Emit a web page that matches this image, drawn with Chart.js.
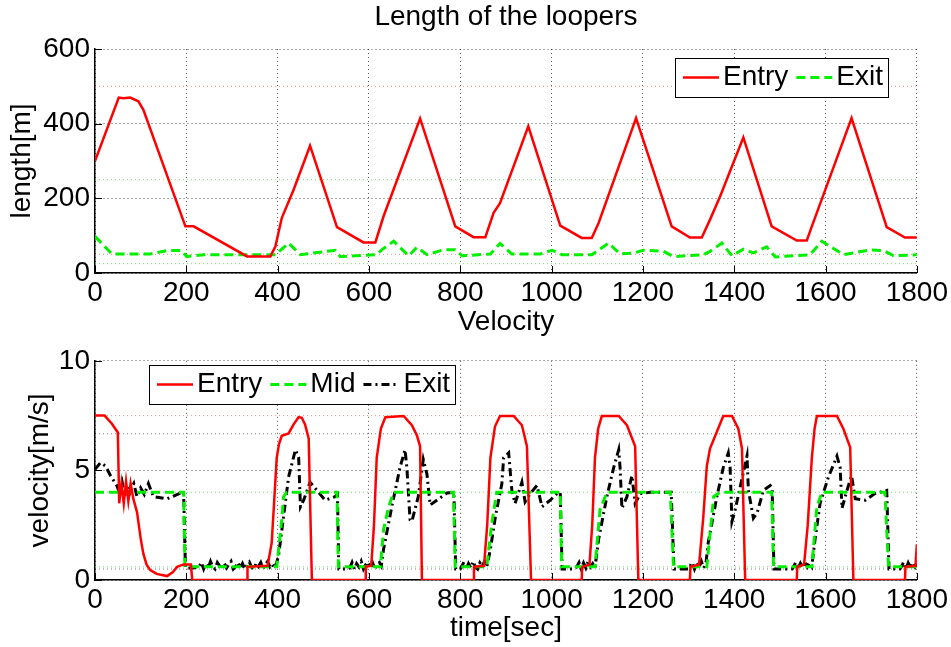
<!DOCTYPE html>
<html>
<head>
<meta charset="utf-8">
<title>Length of the loopers</title>
<script src="https://cdn.jsdelivr.net/npm/chart.js@4.4.0/dist/chart.umd.min.js"></script>
<style>
  html, body { margin: 0; padding: 0; background: #fff; }
  #wrap { position: relative; width: 951px; height: 647px; }
  .panel { position: absolute; left: 0; width: 951px; }
  #top { top: 0; height: 340px; }
  #bottom { top: 339px; height: 308px; }
</style>
</head>
<body>
<div id="wrap">
  <div class="panel" id="top"><canvas id="lengthChart"></canvas></div>
  <div class="panel" id="bottom"><canvas id="velocityChart"></canvas></div>
</div>
<script>
// --- data ---
// time axis ticks (shared by both plots)
const timeTicks = [0, 200, 400, 600, 800, 1000, 1200, 1400, 1600, 1800];
const lengthTicks = [0, 200, 400, 600];
const velocityTicks = [0, 5, 10];

// top plot: looper length [m]
const lenEntryT = [0, 52, 63, 77, 95, 106, 198, 216, 333, 384, 395, 409, 435, 471, 530,
  588, 614, 632, 712, 789, 829, 855, 873, 887, 949, 1019, 1066, 1088, 1103, 1185,
  1263, 1303, 1329, 1347, 1369, 1420, 1482, 1537, 1559, 1570, 1657, 1734, 1774, 1800];
const lenEntry = [300, 470, 468, 470, 460, 437, 125, 125, 44.5, 44.5, 71, 147, 223, 341, 123,
  82, 82, 152, 414, 125, 96, 96, 161, 187, 393, 127, 94, 94, 134, 415,
  125, 95, 95, 143, 205, 363, 125, 87, 87, 125, 415, 123, 95, 95];

const lenExitT = [0, 37, 121, 158, 190, 201, 238, 395, 424, 450, 526, 537, 617, 628, 654,
  687, 705, 727, 763, 789, 804, 866, 887, 913, 975, 1001, 1023, 1088, 1125, 1150,
  1179, 1201, 1245, 1267, 1333, 1347, 1373, 1395, 1420, 1442, 1471, 1490, 1566, 1592, 1639,
  1698, 1727, 1749, 1800];
const lenExit = [98, 51, 51, 60, 60, 44, 49, 49, 80, 49, 61, 44, 49, 62, 85,
  46, 69, 49, 62, 62, 46, 51, 79, 51, 51, 61, 49, 49, 80, 51,
  53, 61, 58, 44, 49, 58, 80, 46, 64, 54, 70, 43, 49, 85, 49,
  62, 60, 46, 49];

// limit lines of the top plot
const lenEntryLimits = [50, 500];
const lenExitLimits = [25, 250];

// bottom plot: velocity [m/s]
const velEntryT = [
  0, 21, 37, 50, 53, 58, 63, 68, 73, 78, 84, 92, 100, 106, 113, 121, 135, 158, 170, 180, 194, 210, 213,
  333, 334, 378, 387, 393, 398, 403, 409, 424, 435, 446, 453, 460, 468, 475,
  592, 593, 605, 611, 617, 626, 636, 676, 694, 705, 712, 716,
  829, 830, 852, 859, 866, 876, 887, 917, 935, 946, 955,
  1066, 1067, 1083, 1089, 1095, 1102, 1110, 1147, 1165, 1183, 1190,
  1303, 1304, 1323, 1332, 1340, 1347, 1362, 1376, 1395, 1409, 1417, 1424,
  1537, 1538, 1553, 1561, 1570, 1576, 1581, 1625, 1639, 1654, 1661,
  1774, 1775, 1797, 1800];
const velEntry = [
  7.5, 7.5, 7.13, 6.73, 3.5, 4.4, 3.5, 4.5, 3.6, 4.4, 3.7, 3.1, 1.9, 1.19, 0.7, 0.45, 0.28, 0.18, 0.35, 0.6, 0.71, 0.71, 0,
  0, 0.6, 0.65, 1.7, 3.8, 5.57, 6.2, 6.58, 6.69, 7.1, 7.43, 7.4, 7.1, 6.46, 0,
  0, 0.6, 0.65, 2.5, 5.57, 6.9, 7.43, 7.48, 7.06, 6.6, 6.1, 0,
  0, 0.6, 0.65, 2.5, 5.57, 7.0, 7.48, 7.48, 7.06, 6.1, 0,
  0, 0.6, 0.7, 2.5, 5.57, 6.9, 7.48, 7.48, 7.06, 6.1, 0,
  0, 0.6, 0.7, 2.8, 5.2, 6.0, 6.76, 7.48, 7.48, 6.9, 6.0, 0,
  0, 0.6, 0.7, 2.5, 5.57, 6.9, 7.48, 7.48, 6.9, 6.05, 0,
  0, 0.6, 0.65, 1.63];

const velMidT = [0, 194, 197, 398, 409, 413, 420, 530, 533, 625, 632, 643, 654, 785, 789, 858, 869, 880,
  1019, 1022, 1095, 1106, 1121, 1260, 1267, 1340, 1355, 1369, 1482, 1486, 1570, 1581, 1592, 1730, 1738, 1800];
const velMid = [4, 4, 0.6, 0.6, 2.75, 3.8, 4, 4, 0.6, 0.6, 2.3, 3.34, 4, 4, 0.6, 0.6, 2.6, 4,
  4, 0.6, 0.6, 3.2, 4, 4, 0.6, 0.6, 3.8, 4, 4, 0.6, 0.6, 3.34, 4, 4, 0.6, 0.6];

const velExitT = [
  0, 12, 23, 34, 48, 55, 60, 65, 70, 75, 80, 85, 92, 100, 108, 117, 128, 158, 187, 194, 198,
  215, 228, 233, 238, 243, 248, 253, 258, 263, 268, 273, 278, 283, 288, 293, 298, 303, 308, 313, 318,
  323, 328, 333, 338, 343, 348, 353, 358, 363, 368, 373, 378, 383, 388, 393, 398,
  402, 413, 424, 439, 446, 450, 457, 471, 486, 504, 526, 531, 534, 555,
  558, 563, 568, 573, 578, 583, 588, 593, 598, 603, 608, 613, 618, 623, 627,
  632, 650, 668, 679, 683, 690, 694, 708, 719, 727, 734, 771, 786, 790, 800,
  803, 808, 813, 818, 823, 828, 833, 838, 843, 848, 853, 858,
  866, 877, 891, 895, 906, 913, 920, 935, 942, 953, 968, 979, 997, 1012, 1019, 1023, 1050,
  1055, 1060, 1065, 1070, 1075, 1080, 1085, 1090, 1095,
  1103, 1121, 1136, 1147, 1150, 1154, 1165, 1176, 1183, 1194, 1216, 1262, 1268, 1300,
  1303, 1308, 1313, 1318, 1323, 1328, 1333, 1338,
  1343, 1362, 1376, 1387, 1391, 1395, 1402, 1413, 1428, 1431, 1442, 1450, 1464, 1479, 1483, 1487, 1527,
  1530, 1535, 1540, 1545, 1550, 1555, 1560, 1565, 1570,
  1577, 1588, 1606, 1625, 1632, 1636, 1647, 1657, 1665, 1687, 1708, 1734, 1739, 1763,
  1766, 1771, 1776, 1781, 1786, 1791, 1796, 1800];
const velExit = [
  5.05, 5.35, 5.2, 4.76, 4.3, 3.9, 4.4, 3.8, 4.3, 3.9, 4.2, 4.4, 3.8, 4.2, 3.9, 4.4, 3.8, 3.7, 3.97, 4.0, 0.55,
  0.55, 0.6, 0.8, 0.5, 0.75, 0.55, 0.85, 0.6, 0.5, 0.8, 0.65, 0.5, 0.78, 0.55, 0.7, 0.85, 0.5, 0.62, 0.8, 0.55,
  0.75, 0.5, 0.7, 0.82, 0.58, 0.5, 0.76, 0.62, 0.8, 0.52, 0.7, 0.84, 0.6, 0.72, 0.55, 0.8,
  1.1, 2.9, 4.7, 5.94, 5.6, 3.34, 3.64, 4.46, 4.09, 3.64, 3.8, 3.9, 0.5, 0.5,
  0.55, 0.8, 0.5, 0.75, 0.6, 0.85, 0.5, 0.7, 0.82, 0.55, 0.78, 0.5, 0.72, 0.8, 0.65,
  1.4, 3.34, 5.13, 5.94, 5.13, 2.75, 2.67, 3.8, 5.5, 4.83, 3.42, 3.97, 4.0, 0.5, 0.5,
  0.6, 0.82, 0.5, 0.75, 0.55, 0.85, 0.6, 0.5, 0.78, 0.62, 0.84, 0.58,
  1.4, 2.9, 4.38, 5.57, 5.8, 4.09, 3.49, 4.46, 3.57, 3.94, 4.31, 3.34, 3.64, 3.94, 4.0, 0.5, 0.5,
  0.6, 0.8, 0.5, 0.78, 0.55, 0.85, 0.6, 0.75, 0.55,
  1.86, 3.8, 5.13, 5.94, 5.13, 3.27, 3.8, 4.76, 3.49, 3.94, 4.0, 4.0, 0.5, 0.5,
  0.62, 0.8, 0.5, 0.78, 0.58, 0.85, 0.55, 0.75,
  1.7, 3.8, 5.13, 5.8, 5.13, 2.67, 3.2, 4.24, 5.65, 4.09, 2.82, 3.05, 4.09, 4.31, 4.2, 0.5, 0.5,
  0.6, 0.82, 0.5, 0.76, 0.55, 0.85, 0.6, 0.78, 0.62,
  1.86, 3.49, 4.68, 5.65, 5.13, 3.27, 4.09, 4.76, 3.71, 3.64, 3.94, 4.09, 0.5, 0.5,
  0.6, 0.82, 0.5, 0.78, 0.55, 0.8, 0.6, 0.75];

// limit lines of the bottom plot
const velEntryLimits = [7.5];
const velMidLimits = [0.6, 4];
const velExitLimits = [0.5, 6.67];

// --- helpers ---
const FONT = '"Liberation Sans", Arial, Helvetica, sans-serif';
const FONT_SIZE = 28;
const RED = '#ff0000';
const GREEN = '#00f000';
const BLACK = '#000000';

Chart.defaults.font.family = FONT;
Chart.defaults.font.size = FONT_SIZE;
Chart.defaults.color = '#000';

function points(xs, ys) {
  return xs.map((x, i) => ({ x: x, y: ys[i] }));
}

function series(label, xs, ys, color, width, dash) {
  return {
    label: label,
    data: points(xs, ys),
    borderColor: color,
    borderWidth: width,
    borderDash: dash,
    pointRadius: 0,
    tension: 0,
    fill: false
  };
}

// thin dotted horizontal limit line across the whole time range
function limitLine(value, color) {
  return {
    label: '_limit',
    data: [{ x: timeTicks[0], y: value }, { x: timeTicks[timeTicks.length - 1], y: value }],
    borderColor: color,
    borderWidth: 1,
    borderDash: [1, 3],
    pointRadius: 0,
    fill: false
  };
}

// MATLAB style ticks pointing into the plot
const inwardTicks = {
  id: 'inwardTicks',
  afterDraw(chart) {
    const { ctx, chartArea: a, scales } = chart;
    ctx.save();
    ctx.strokeStyle = '#000';
    ctx.lineWidth = 1;
    ctx.beginPath();
    scales.x.ticks.forEach(t => {
      const px = Math.round(scales.x.getPixelForValue(t.value)) + 0.5;
      ctx.moveTo(px, a.bottom);
      ctx.lineTo(px, a.bottom - 7);
    });
    scales.y.ticks.forEach(t => {
      const py = Math.round(scales.y.getPixelForValue(t.value)) + 0.5;
      ctx.moveTo(a.left, py);
      ctx.lineTo(a.left + 7, py);
    });
    ctx.stroke();
    ctx.restore();
  }
};

// plot title centred over the axes, like MATLAB does
function axesTitle(text, y) {
  return {
    id: 'axesTitle',
    afterDraw(chart) {
      const { ctx, chartArea: a } = chart;
      ctx.save();
      ctx.font = FONT_SIZE + 'px ' + FONT;
      ctx.fillStyle = '#000';
      ctx.textAlign = 'center';
      ctx.textBaseline = 'middle';
      ctx.fillText(text, (a.left + a.right) / 2, y);
      ctx.restore();
    }
  };
}

// boxed legend with line samples, drawn on top of the data
function boxLegend(left, top, height, items) {
  return {
    id: 'boxLegend',
    afterDraw(chart) {
      const ctx = chart.ctx;
      const sample = 36, gap = 4, spacing = 8, padL = 8, padR = 5;
      ctx.save();
      ctx.font = FONT_SIZE + 'px ' + FONT;
      let width = padL + padR;
      items.forEach((idx, i) => {
        width += sample + gap + ctx.measureText(chart.data.datasets[idx].label).width;
        if (i < items.length - 1) width += spacing;
      });
      const x0 = Math.round(left) + 0.5, y0 = Math.round(top) + 0.5;
      ctx.fillStyle = '#fff';
      ctx.fillRect(x0, y0, width, height);
      ctx.strokeStyle = '#000';
      ctx.lineWidth = 1;
      ctx.strokeRect(x0, y0, Math.round(width), height);
      const cy = top + height / 2;
      let x = left + padL;
      items.forEach(idx => {
        const ds = chart.data.datasets[idx];
        ctx.beginPath();
        ctx.strokeStyle = ds.borderColor;
        ctx.lineWidth = ds.borderWidth;
        ctx.setLineDash(ds.borderDash || []);
        ctx.moveTo(x, cy);
        ctx.lineTo(x + sample, cy);
        ctx.stroke();
        ctx.setLineDash([]);
        x += sample + gap;
        ctx.fillStyle = '#000';
        ctx.textAlign = 'left';
        ctx.textBaseline = 'middle';
        ctx.fillText(ds.label, x, cy);
        x += ctx.measureText(ds.label).width + spacing;
      });
      ctx.restore();
    }
  };
}

function timeAxis(titleText, titleBottom, axisHeight) {
  return {
    type: 'linear',
    min: timeTicks[0],
    max: timeTicks[timeTicks.length - 1],
    afterBuildTicks: scale => { scale.ticks = timeTicks.map(v => ({ value: v })); },
    afterFit: scale => { scale.height = axisHeight; },
    ticks: { padding: 3, maxRotation: 0, autoSkip: false, callback: v => String(v) },
    grid: { color: 'rgba(0,0,0,0.65)', lineWidth: 1, drawTicks: false },
    border: { display: true, color: '#000', width: 1.5, dash: [1, 3] },
    title: { display: true, text: titleText, padding: { top: 0, bottom: titleBottom } }
  };
}

function valueAxis(tickValues, titleText, titleLeft) {
  return {
    type: 'linear',
    min: tickValues[0],
    max: tickValues[tickValues.length - 1],
    afterBuildTicks: scale => { scale.ticks = tickValues.map(v => ({ value: v })); },
    afterFit: scale => { scale.width = 95; },
    ticks: { padding: 5, callback: v => String(v) },
    grid: { color: 'rgba(0,0,0,0.65)', lineWidth: 1, drawTicks: false },
    border: { display: true, color: '#000', width: 1.5, dash: [1, 3] },
    title: { display: true, text: titleText, padding: { top: titleLeft, bottom: 0 } }
  };
}

document.addEventListener('DOMContentLoaded', () => {

  // --- Length of the loopers ---
  const lengthCtx = document.getElementById('lengthChart').getContext('2d');
  new Chart(lengthCtx, {
    type: 'line',
    data: {
      datasets: [
        series('Entry', lenEntryT, lenEntry, RED, 2.5, []),
        series('Exit', lenExitT, lenExit, GREEN, 3, [9, 5]),
        ...lenEntryLimits.map(v => limitLine(v, 'rgba(255,0,0,0.45)')),
        ...lenExitLimits.map(v => limitLine(v, 'rgba(0,220,0,0.6)'))
      ]
    },
    options: {
      responsive: true,
      maintainAspectRatio: false,
      animation: false,
      layout: { padding: { left: 0, right: 34, top: 49, bottom: 0 } },
      plugins: {
        legend: { display: false },
        tooltip: { enabled: false }
      },
      scales: {
        x: timeAxis('Velocity', 1, 67),
        y: valueAxis(lengthTicks, 'length[m]', 5)
      }
    },
    plugins: [inwardTicks, axesTitle('Length of the loopers', 17), boxLegend(675, 58, 39, [0, 1])]
  });

  // --- Velocity of the strip ---
  const velocityCtx = document.getElementById('velocityChart').getContext('2d');
  new Chart(velocityCtx, {
    type: 'line',
    data: {
      datasets: [
        series('Entry', velEntryT, velEntry, RED, 2.5, []),
        series('Mid', velMidT, velMid, GREEN, 3, [9, 5]),
        series('Exit', velExitT, velExit, BLACK, 3, [8, 4, 2, 4]),
        ...velEntryLimits.map(v => limitLine(v, 'rgba(255,0,0,0.45)')),
        ...velMidLimits.map(v => limitLine(v, 'rgba(0,220,0,0.6)')),
        ...velExitLimits.map(v => limitLine(v, 'rgba(0,0,0,0.5)'))
      ]
    },
    options: {
      responsive: true,
      maintainAspectRatio: false,
      animation: false,
      layout: { padding: { left: 0, right: 34, top: 0, bottom: 0 } },
      plugins: {
        legend: { display: false },
        tooltip: { enabled: false }
      },
      scales: {
        x: timeAxis('time[sec]', 2, 67),
        y: valueAxis(velocityTicks, 'velocity[m/s]', 23)
      }
    },
    plugins: [inwardTicks, boxLegend(149, 26, 39, [0, 1, 2])]
  });
});
</script>
</body>
</html>
